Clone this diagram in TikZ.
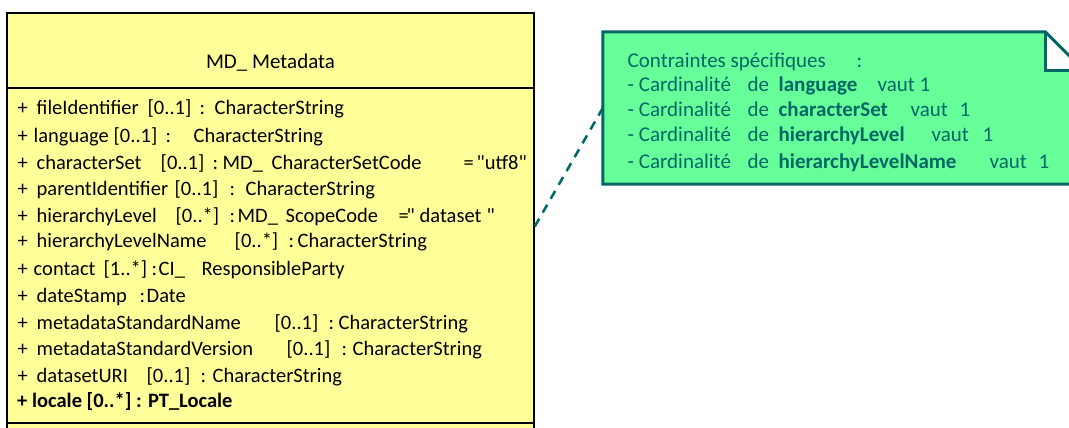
\documentclass[tikz,border=0pt]{standalone}
\usepackage{fontspec}
\setmainfont{Carlito}
\newfontfamily\nolig{Carlito}[Ligatures=TeXOff]
\definecolor{clsfill}{HTML}{FFFF99}
\definecolor{notefill}{HTML}{66FF99}
\definecolor{teal2}{HTML}{006666}
\newcommand\seg[2]{\rlap{\hspace*{#1pt}#2}}
\newcommand\dq{{\nolig"}}
\tikzset{
  classbox/.style={draw=black, line width=1.5pt, fill=clsfill, minimum width=527pt, minimum height=427pt, inner sep=0pt},
  attr/.style={anchor=base west, inner sep=0pt, font=\fontsize{20.5}{25}\selectfont, text=black},
  notetext/.style={anchor=base west, inner sep=0pt, font=\fontsize{21}{25}\selectfont, text=teal2},
  notebox/.style={minimum width=481pt, minimum height=152pt, inner sep=0pt},
  noteline/.style={draw=teal2, line width=3pt, line join=miter},
  link/.style={draw=teal2, line width=2.5pt, dash pattern=on 9pt off 7pt}
}
\begin{document}
\begin{tikzpicture}[x=1pt,y=-1pt]
\useasboundingbox (0,0) rectangle (1069,428);
\clip (0,0) rectangle (1069,428);
% class box
\node[classbox] (md) at (270.5,226.5) {};
\coordinate (y88) at (0,88);
\coordinate (y423) at (0,423);
\draw[line width=1.5pt] (md.west |- y88) -- (md.east |- y88);
\draw[line width=1.5pt] (md.west |- y423) -- (md.east |- y423);
\node[font=\fontsize{21}{25}\selectfont, inner sep=0pt] (title) at (270.5,63) {MD\_ Metadata};
% attributes
\node[attr] (a1) at (17,114) {\seg{0}{+}\seg{19}{fileIdentifier}\seg{130}{[0..1]}\seg{182}{:}\seg{197}{CharacterString}};
\node[attr] (a2) at (17,142) {\seg{0}{+}\seg{16}{language}\seg{96}{[0..1]}\seg{148}{:}\seg{176}{CharacterString}};
\node[attr] (a3) at (17,169) {\seg{0}{+}\seg{19}{characterSet}\seg{143}{[0..1]}\seg{195}{:}\seg{205}{MD\_}\seg{254}{CharacterSetCode}\seg{446}{=}\seg{459}{\dq utf8\dq}};
\node[attr] (a4) at (17,195) {\seg{0}{+}\seg{19}{parentIdentifier}\seg{157}{[0..1]}\seg{212}{:}\seg{228}{CharacterString}};
\node[attr] (a5) at (17,222) {\seg{0}{+}\seg{19}{hierarchyLevel}\seg{158}{[0..*]}\seg{212}{:}\seg{220}{MD\_}\seg{268}{ScopeCode}\seg{381}{=}\seg{389}{\dq}\seg{402}{dataset}\seg{469}{\dq}};
\node[attr] (a6) at (17,247) {\seg{0}{+}\seg{19}{hierarchyLevelName}\seg{217}{[0..*]}\seg{271}{:}\seg{280}{CharacterString}};
\node[attr] (a7) at (17,275) {\seg{0}{+}\seg{16}{contact}\seg{86}{[1..*]}\seg{134}{:}\seg{141}{CI\_}\seg{184}{ResponsibleParty}};
\node[attr] (a8) at (17,302) {\seg{0}{+}\seg{19}{dateStamp}\seg{122}{:}\seg{129}{Date}};
\node[attr] (a9) at (17,329) {\seg{0}{+}\seg{19}{metadataStandardName}\seg{257}{[0..1]}\seg{311}{:}\seg{321}{CharacterString}};
\node[attr] (a10) at (17,355) {\seg{0}{+}\seg{19}{metadataStandardVersion}\seg{269}{[0..1]}\seg{324}{:}\seg{335}{CharacterString}};
\node[attr] (a11) at (17,382) {\seg{0}{+}\seg{19}{datasetURI}\seg{129}{[0..1]}\seg{183}{:}\seg{195}{CharacterString}};
\node[attr, font=\fontsize{20.5}{25}\selectfont\bfseries] (a12) at (17,407) {+ locale [0..*] : PT\_Locale};
% note
\node[notebox] (note) at (843.5,108) {};
\fill[notefill] (note.north west) -- ([xshift=-39pt]note.north east) -- ([yshift=-39pt]note.north east) -- (note.south east) -- (note.south west) -- cycle;
\fill[white] ([xshift=-39pt]note.north east) -- ([xshift=-39pt,yshift=-39pt]note.north east) -- ([yshift=-39pt]note.north east) -- cycle;
\draw[noteline] (note.north west) -- ([xshift=-39pt]note.north east) -- ([yshift=-39pt]note.north east) -- (note.south east) -- (note.south west) -- cycle;
\draw[noteline] ([xshift=-39pt]note.north east) -- ([xshift=-39pt,yshift=-39pt]note.north east) -- ([yshift=-39pt]note.north east);
\node[notetext] (n1) at (627,67) {\seg{0}{Contraintes spécifiques}\seg{229}{:}};
\node[notetext] (n2) at (627,92) {\seg{0}{- Cardinalité}\seg{120}{de}\seg{151}{\bfseries language}\seg{250}{vaut 1}};
\node[notetext] (n3) at (627,117) {\seg{0}{- Cardinalité}\seg{120}{de}\seg{151}{\bfseries characterSet}\seg{283}{vaut}\seg{332}{1}};
\node[notetext] (n4) at (627,141) {\seg{0}{- Cardinalité}\seg{120}{de}\seg{151}{\bfseries hierarchyLevel}\seg{304}{vaut}\seg{355}{1}};
\node[notetext] (n5) at (627,168) {\seg{0}{- Cardinalité}\seg{120}{de}\seg{151}{\bfseries hierarchyLevelName}\seg{362}{vaut}\seg{411}{1}};
% connector
\draw[link] (md.east) -- (note.west);
\end{tikzpicture}
\end{document}
